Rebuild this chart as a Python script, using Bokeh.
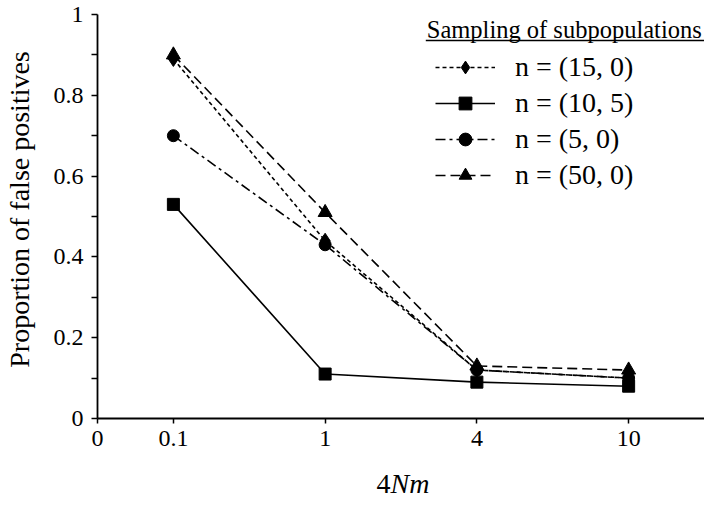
from bokeh.plotting import figure
from bokeh.layouts import column
from bokeh.models import Range1d, FixedTicker, Legend, LegendItem, Label, BoxAnnotation, Div
from bokeh.embed import file_html
from bokeh.resources import INLINE

# ---- data ----
x_labels = ["0", "0.1", "1", "4", "10"]
categories = ["0.1", "1", "4", "10"]
series_names = ["n = (15, 0)", "n = (10, 5)", "n = (5, 0)", "n = (50, 0)"]
s15_0 = [0.89, 0.44, 0.12, 0.10]
s10_5 = [0.53, 0.11, 0.09, 0.08]
s5_0 = [0.70, 0.43, 0.12, 0.10]
s50_0 = [0.90, 0.51, 0.13, 0.12]
y_ticks = [0, 0.2, 0.4, 0.6, 0.8, 1]
y_tick_labels = ["0", "0.2", "0.4", "0.6", "0.8", "1"]
y_minor = [0.1, 0.3, 0.5, 0.7, 0.9]
legend_title = "Sampling of subpopulations"
y_title = "Proportion of false positives"

FONT = "Liberation Serif"

# category positions on the axis ("0" at the origin, categories centred in slots)
cat_pos = [i + 0.5 for i in range(len(categories))]
x_tick_pos = [0] + cat_pos

FRAME_L, FRAME_B, PX_Y, PX_X = 92, 418, 404.0, 153.0

p = figure(width=704, height=462, output_backend="svg", toolbar_location=None,
           x_range=Range1d(0, 4), y_range=Range1d(0, FRAME_B / PX_Y),
           min_border_left=FRAME_L, min_border_right=0, min_border_top=0,
           min_border_bottom=462 - FRAME_B)
p.grid.visible = False
p.outline_line_color = None
p.background_fill_color = "white"
p.border_fill_color = "white"

# axes
for ax in (p.xaxis[0], p.yaxis[0]):
    ax.axis_line_color = "black"
    ax.axis_line_width = 1.8
    ax.major_tick_line_color = "black"
    ax.major_tick_line_width = 1.5
    ax.major_tick_in = 0
    ax.major_label_text_font = FONT
    ax.major_label_text_font_size = "24px"
    ax.major_label_text_color = "black"
    ax.axis_label_text_font = FONT
    ax.axis_label_text_font_style = "normal"
    ax.axis_label_text_color = "black"

p.xaxis.ticker = FixedTicker(ticks=x_tick_pos, minor_ticks=[])
p.xaxis.major_label_overrides = {pos: lab for pos, lab in zip(x_tick_pos, x_labels)}
p.xaxis.major_tick_out = 5
p.xaxis.major_label_standoff = 7

p.yaxis.ticker = FixedTicker(ticks=y_ticks, minor_ticks=y_minor)
p.yaxis.major_label_overrides = {t: lab for t, lab in zip(y_ticks, y_tick_labels)}
p.yaxis.major_tick_out = 6
p.yaxis.minor_tick_out = 6
p.yaxis.minor_tick_in = 0
p.yaxis.minor_tick_line_color = "black"
p.yaxis.minor_tick_line_width = 1.5
p.yaxis.major_label_standoff = 8
p.yaxis.axis_label = y_title
p.yaxis.axis_label_text_font_size = "28px"
p.yaxis.axis_label_standoff = 16
p.yaxis.bounds = (0, 1)

# series
styles = [
    dict(dash="4 3", marker="diamond", size=15),
    dict(dash="solid", marker="square", size=12),
    dict(dash="10 4 3 4", marker="circle", size=12),
    dict(dash="10 5", marker="triangle", size=14),
]
values = [s15_0, s10_5, s5_0, s50_0]
line_rs = []
for vals, st in zip(values, styles):
    line_rs.append(p.line(cat_pos, vals, line_color="black", line_width=1.6,
                          line_dash=st["dash"]))
marker_rs = []
for vals, st in zip(values, styles):
    marker_rs.append(p.scatter(cat_pos, vals, marker=st["marker"], size=st["size"],
                               fill_color="black", line_color="black", line_width=1))
items = [LegendItem(label=name, renderers=[lr, sr])
         for name, lr, sr in zip(series_names, line_rs, marker_rs)]

legend = Legend(items=items, location=(430 - FRAME_L, 227), glyph_width=60, glyph_height=32,
                label_height=32, spacing=4, label_standoff=20, padding=0, margin=0,
                border_line_color=None, background_fill_alpha=0,
                label_text_font=FONT, label_text_font_size="28px", label_text_color="black")
p.add_layout(legend)

# legend title with underline
p.add_layout(Label(x=(424 - FRAME_L) / PX_X, y=(FRAME_B - 29) / PX_Y, text=legend_title,
                   text_font=FONT, text_font_size="24.5px", text_color="black",
                   text_baseline="alphabetic", text_align="left"))
p.add_layout(BoxAnnotation(left=(423 - FRAME_L) / PX_X, right=4.0,
                           bottom=(FRAME_B - 40.8) / PX_Y, top=(FRAME_B - 39.2) / PX_Y,
                           fill_color="black", fill_alpha=1, line_alpha=0))

# x-axis title "4Nm" (Nm in italics), as real HTML text below the plot
xt = Div(text=("<div style=\"margin-left:%dpx;width:%dpx;text-align:center;"
               "font-family:'Liberation Serif';font-size:28px;line-height:28px;"
               "color:black;padding-top:3px;\">4<i>Nm</i></div>") % (FRAME_L, 704 - FRAME_L),
         width=704, height=29)

layout = column(p, xt, spacing=0)
open("out.html", "w").write(file_html(layout, INLINE))
